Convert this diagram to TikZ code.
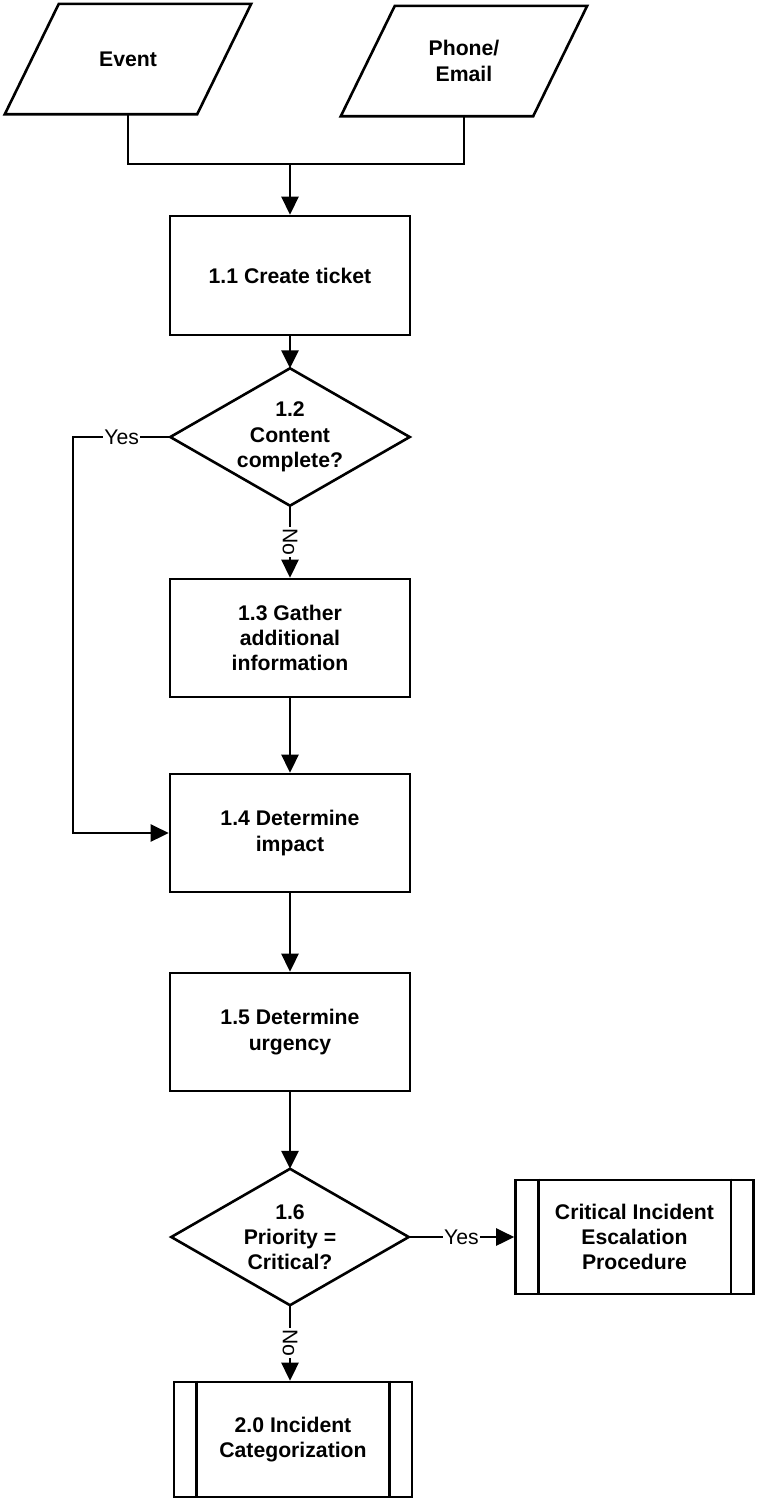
\documentclass[tikz,border=0pt]{standalone}
\usepackage{fontspec}
\setmainfont{Liberation Sans}
\usetikzlibrary{arrows.meta,calc}
\begin{document}
\begin{tikzpicture}[x=1pt,y=-1pt,
  every node/.style={font=\fontsize{21.2pt}{25.3pt}\selectfont\bfseries, align=center, inner sep=0pt},
  box/.style={draw, line width=2.6pt, minimum width=240pt, minimum height=118pt},
  sub/.style={box, minimum width=238pt},
  iobox/.style={minimum width=246pt, minimum height=110pt},
  decbox/.style={minimum width=239pt, minimum height=137pt},
  link/.style={line width=2.6pt},
  flow/.style={line width=2.6pt, -{Triangle[length=18pt,width=17pt]}},
  lbl/.style={fill=white, font=\fontsize{21.2pt}{25.3pt}\selectfont, inner sep=1.5pt}
]
\useasboundingbox (0,0) rectangle (756,1499);

% inputs
\node[iobox] (ev) at (128,59) {Event};
\node[iobox] (ph) at (464,61) {Phone/\\Email};

% main column
\node[box, minimum height=119pt] (b11) at (290,275.5) {1.1 Create ticket};
\node[decbox] (d12) at (290,437) {1.2\\Content\\complete?};
\node[box] (b13) at (290,638) {1.3 Gather\\additional\\information};
\node[box] (b14) at (290,833) {1.4 Determine\\impact};
\node[box] (b15) at (290,1032) {1.5 Determine\\urgency};
\node[decbox, minimum width=237pt, minimum height=136pt] (d16) at (290,1237) {1.6\\Priority =\\Critical?};

% predefined processes
\node[sub, minimum height=114pt] (ce) at (634.5,1237) {Critical Incident\\Escalation\\Procedure};
\node[sub, minimum height=115pt] (b20) at (293,1439.5) {2.0 Incident\\Categorization};

% outlines of the input parallelograms
\foreach \n in {ev,ph}
  \draw[link] ($(\n.north west)+(54,0)$) -- (\n.north east)
    -- ($(\n.south east)+(-54,0)$) -- (\n.south west) -- cycle;
% outlines of the decisions
\foreach \n in {d12,d16}
  \draw[link] (\n.north) -- (\n.east) -- (\n.south) -- (\n.west) -- cycle;
% inner bars of the predefined processes
\foreach \n in {ce,b20}
  \draw[link] ([xshift=24pt]\n.north west) -- ([xshift=24pt]\n.south west)
              ([xshift=-24pt]\n.north east) -- ([xshift=-24pt]\n.south east);

% connectors
\coordinate (j) at (290,164);
\coordinate (lp) at (73,437);
\draw[link] (ev.south) |- (j) -| (ph.south);
\draw[flow] (j) -- (b11.north);
\draw[flow] (b11.south) -- (d12.north);
\draw[flow] (d12.south) -- node[lbl, rotate=-90] {No} (b13.north);
\draw[flow] (d12.west) -- node[lbl] {Yes} (lp) |- (b14.west);
\draw[flow] (b13.south) -- (b14.north);
\draw[flow] (b14.south) -- (b15.north);
\draw[flow] (b15.south) -- (d16.north);
\draw[flow] (d16.east) -- node[lbl] {Yes} (ce.west);
\draw[flow] (d16.south) -- node[lbl, rotate=-90] {No} (d16.south |- b20.north);
\end{tikzpicture}
\end{document}
